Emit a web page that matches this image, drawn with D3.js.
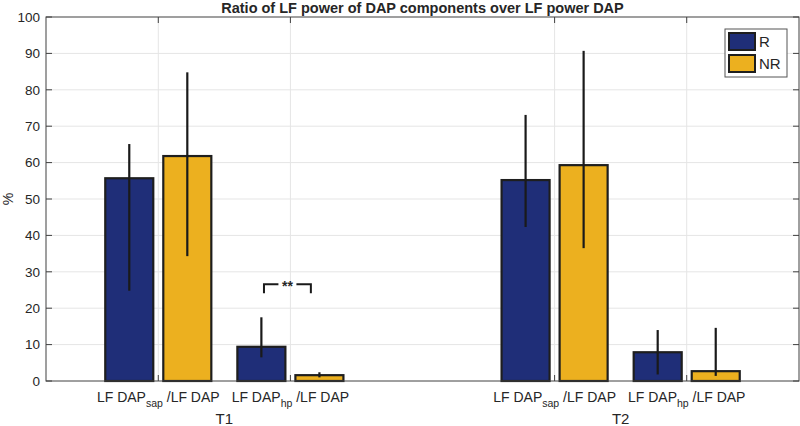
<!DOCTYPE html>
<html>
<head>
<meta charset="utf-8">
<script src="https://cdn.jsdelivr.net/npm/d3@7"></script>
<style>
  html, body { margin: 0; padding: 0; background: #fff; }
  svg { display: block; }
  text { font-family: "Liberation Sans", Arial, Helvetica, sans-serif; fill: #262626; }
</style>
</head>
<body>
<svg id="chart" width="800" height="426"></svg>
<script>
// ---- data ----
const title = "Ratio of LF power of DAP components over LF power DAP";
const yLabel = "%";
const positions = [1, 2, 4, 5];
const tickMain = ["LF DAP", "LF DAP", "LF DAP", "LF DAP"];
const tickSub = ["sap", "hp", "sap", "hp"];
const tickTail = ["/LF DAP", "/LF DAP", "/LF DAP", "/LF DAP"];
const groupLabels = ["T1", "T2"];
const groupCenters = [1.5, 4.5];
const seriesNames = ["R", "NR"];
const seriesColors = ["#1f2e78", "#ecb01f"];
const valuesR = [55.7, 9.4, 55.2, 7.9];
const valuesNR = [61.8, 1.6, 59.3, 2.7];
const lowerR = [24.8, 6.5, 42.3, 1.8];
const upperR = [65.1, 17.5, 73.1, 14.0];
const lowerNR = [34.3, 1.0, 36.5, 1.4];
const upperNR = [84.8, 2.4, 90.7, 14.6];
const yTicks = [0, 10, 20, 30, 40, 50, 60, 70, 80, 90, 100];
const sigPos = 2, sigFrom = -0.2, sigTo = 0.155, sigLevel = 26.6, sigLeg = 24.1, sigText = "**";

// ---- layout ----
const svg = d3.select("#chart");
const L = 46, R = 799, T = 17, B = 381;
const x = d3.scaleLinear().domain([0.15, 5.85]).range([L, R]);
const y = d3.scaleLinear().domain([0, 100]).range([B, T]);
const groupWidth = x(0.818) - x(0);
const inner = d3.scaleBand().domain(seriesNames).range([-groupWidth / 2, groupWidth / 2]).paddingInner(0.138);

const series = [
  { name: "R", values: valuesR, lo: lowerR, hi: upperR, color: seriesColors[0] },
  { name: "NR", values: valuesNR, lo: lowerNR, hi: upperNR, color: seriesColors[1] }
];

// grid
const grid = svg.append("g");
grid.selectAll("line.h").data(yTicks.slice(1, -1)).join("line")
  .attr("x1", L).attr("x2", R).attr("y1", d => y(d)).attr("y2", d => y(d))
  .attr("stroke", "#e5e5e5").attr("stroke-width", 1);
grid.selectAll("line.v").data(positions).join("line")
  .attr("x1", d => x(d)).attr("x2", d => x(d)).attr("y1", T).attr("y2", B)
  .attr("stroke", "#e5e5e5").attr("stroke-width", 1);

// bars
const barG = svg.append("g");
series.forEach(s => {
  const rows = positions.map((p, i) => ({ p, v: s.values[i], lo: s.lo[i], hi: s.hi[i] }));
  barG.append("g").selectAll("rect").data(rows).join("rect")
    .attr("x", d => x(d.p) + inner(s.name) + 1)
    .attr("y", d => y(d.v))
    .attr("width", inner.bandwidth() - 2)
    .attr("height", d => y(0) - y(d.v))
    .attr("fill", s.color)
    .attr("stroke", "#1e1e1e").attr("stroke-width", 2.2);
});
// error bars
series.forEach(s => {
  const rows = positions.map((p, i) => ({ p, lo: s.lo[i], hi: s.hi[i] }));
  barG.append("g").selectAll("line").data(rows).join("line")
    .attr("x1", d => x(d.p) + inner(s.name) + inner.bandwidth() / 2)
    .attr("x2", d => x(d.p) + inner(s.name) + inner.bandwidth() / 2)
    .attr("y1", d => y(d.lo)).attr("y2", d => y(d.hi))
    .attr("stroke", "#1a1a1a").attr("stroke-width", 2.2);
});

// axes box
const axisColor = "#404040";
const ax = svg.append("g");
ax.append("rect").attr("x", L).attr("y", T).attr("width", R - L).attr("height", B - T)
  .attr("fill", "none").attr("stroke", axisColor).attr("stroke-width", 1);
ax.selectAll("line.yl").data(yTicks).join("line").attr("class", "yl")
  .attr("x1", L).attr("x2", L + 6).attr("y1", d => y(d)).attr("y2", d => y(d))
  .attr("stroke", axisColor);
ax.selectAll("line.yr").data(yTicks).join("line").attr("class", "yr")
  .attr("x1", R).attr("x2", R - 6).attr("y1", d => y(d)).attr("y2", d => y(d))
  .attr("stroke", axisColor);
ax.selectAll("line.xb").data(positions).join("line").attr("class", "xb")
  .attr("x1", d => x(d)).attr("x2", d => x(d)).attr("y1", B).attr("y2", B - 6)
  .attr("stroke", axisColor);
ax.selectAll("line.xt").data(positions).join("line").attr("class", "xt")
  .attr("x1", d => x(d)).attr("x2", d => x(d)).attr("y1", T).attr("y2", T + 6)
  .attr("stroke", axisColor);

// y tick labels
ax.selectAll("text.yt").data(yTicks).join("text").attr("class", "yt")
  .attr("x", L - 6).attr("y", d => y(d)).attr("dy", "0.35em")
  .attr("text-anchor", "end").attr("font-size", 13.5).text(d => d);

// x tick labels with subscripts
const xl = ax.selectAll("text.xl").data(positions).join("text").attr("class", "xl")
  .attr("x", d => x(d)).attr("y", 402).attr("text-anchor", "middle").attr("font-size", 14);
xl.append("tspan").text((d, i) => tickMain[i]);
xl.append("tspan").attr("font-size", 10.5).attr("dy", 5).text((d, i) => tickSub[i]);
xl.append("tspan").attr("dy", -5).text((d, i) => " " + tickTail[i]);

// group labels
ax.selectAll("text.gl").data(groupLabels).join("text").attr("class", "gl")
  .attr("x", (d, i) => x(groupCenters[i])).attr("y", 424)
  .attr("text-anchor", "middle").attr("font-size", 15).text(d => d);

// y label
svg.append("text").attr("transform", `translate(13,${(T + B) / 2}) rotate(-90)`)
  .attr("text-anchor", "middle").attr("font-size", 14).text(yLabel);

// title
svg.append("text").attr("x", (L + R) / 2).attr("y", 12.5).attr("text-anchor", "middle")
  .attr("font-size", 14.5).attr("font-weight", "bold").text(title);

// significance bracket
const sx1 = x(sigPos + sigFrom), sx2 = x(sigPos + sigTo), sy = y(sigLevel), syl = y(sigLeg);
const starX = (sx1 + sx2) / 2;
const sg = svg.append("g").attr("stroke", "#1a1a1a").attr("stroke-width", 2).attr("fill", "none");
sg.append("path").attr("d", `M${sx1},${syl}V${sy}H${starX - 9}`);
sg.append("path").attr("d", `M${starX + 9},${sy}H${sx2}V${syl}`);
svg.append("text").attr("x", starX).attr("y", sy + 7).attr("text-anchor", "middle")
  .attr("font-size", 14).attr("font-weight", "bold").text(sigText);

// legend
const lg = svg.append("g");
lg.append("rect").attr("x", 725).attr("y", 29).attr("width", 62).attr("height", 48)
  .attr("fill", "#fff").attr("stroke", "#555").attr("stroke-width", 1);
series.forEach((s, i) => {
  lg.append("rect").attr("x", 729).attr("y", 33 + i * 22).attr("width", 26).attr("height", 17)
    .attr("fill", s.color).attr("stroke", "#1e1e1e").attr("stroke-width", 2);
  lg.append("text").attr("x", 759).attr("y", 47 + i * 22).attr("font-size", 15).text(s.name);
});
</script>
</body>
</html>
